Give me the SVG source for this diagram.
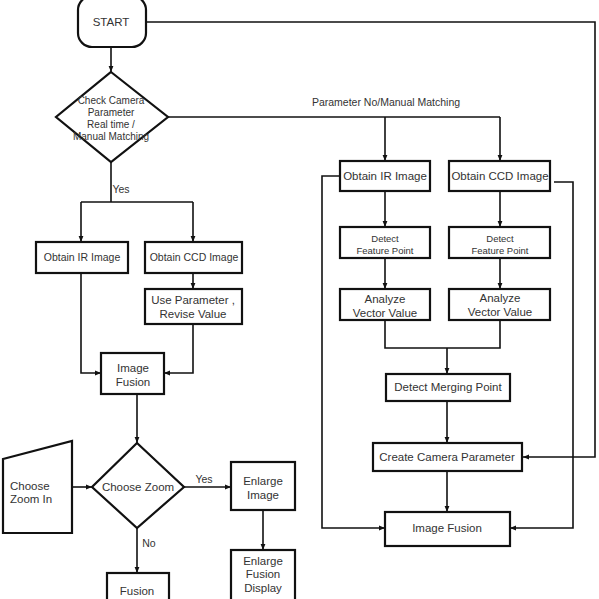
<svg xmlns="http://www.w3.org/2000/svg" width="599" height="599" viewBox="0 0 599 599">
<style>
.b{fill:#fff;stroke:#111;stroke-width:2.2}
.c{fill:none;stroke:#111;stroke-width:1.6}
text{font-family:"Liberation Sans","Noto Sans",sans-serif;fill:#333;text-anchor:middle}
.s{font-size:10.5px}
.d{font-size:10px}
.m{font-size:11.5px}
.t{font-size:9.5px}
</style>
<defs>
<marker id="a" viewBox="0 0 10 10" refX="10" refY="5" markerWidth="6" markerHeight="6" orient="auto-start-reverse" markerUnits="userSpaceOnUse"><path d="M0,1 L10,5 L0,9 z" fill="#111"/></marker>
</defs>
<rect width="599" height="599" fill="#fff"/>
<g id="connectors">
<path class="c" d="M111,47 V72" marker-end="url(#a)"/>
<path class="c" d="M146,22 H595 V457 H523" marker-end="url(#a)"/>
<path class="c" d="M168,117 H500"/>
<path class="c" d="M385,117 V161" marker-end="url(#a)"/>
<path class="c" d="M500,117 V161" marker-end="url(#a)"/>
<path class="c" d="M111,162 V202"/>
<path class="c" d="M81,202 H193"/>
<path class="c" d="M81,202 V242" marker-end="url(#a)"/>
<path class="c" d="M193,202 V242" marker-end="url(#a)"/>
<path class="c" d="M193,273 V289" marker-end="url(#a)"/>
<path class="c" d="M81,273 V373 H101" marker-end="url(#a)"/>
<path class="c" d="M193,324 V373 H164" marker-end="url(#a)"/>
<path class="c" d="M137,394 V443" marker-end="url(#a)"/>
<path class="c" d="M72,487 H92" marker-end="url(#a)"/>
<path class="c" d="M184,487 H231" marker-end="url(#a)"/>
<path class="c" d="M263,510 V550" marker-end="url(#a)"/>
<path class="c" d="M137,528 V573" marker-end="url(#a)"/>
<path class="c" d="M385,191 V227" marker-end="url(#a)"/>
<path class="c" d="M500,191 V227" marker-end="url(#a)"/>
<path class="c" d="M385,258 V289" marker-end="url(#a)"/>
<path class="c" d="M500,258 V289" marker-end="url(#a)"/>
<path class="c" d="M385,320 V348 H500 V320"/>
<path class="c" d="M447,348 V374" marker-end="url(#a)"/>
<path class="c" d="M447,401 V443" marker-end="url(#a)"/>
<path class="c" d="M447,471 V512" marker-end="url(#a)"/>
<path class="c" d="M340,176 H322 V528 H385" marker-end="url(#a)"/>
<path class="c" d="M554,182 H573 V528 H510" marker-end="url(#a)"/>
<text class="s" x="121" y="193">Yes</text>
<text class="s" x="386" y="106">Parameter No/Manual Matching</text>
<text class="s" x="204" y="483">Yes</text>
<text class="s" x="149" y="547">No</text>
</g>
<g id="start"><rect class="b" x="78" y="-4" width="68" height="51" rx="14"/><text class="m" x="111" y="26">START</text></g>
<g id="check"><path class="b" d="M111,72 L168,117 L111,162 L56,117 Z"/>
<text class="d" x="111" y="104">Check Camera</text><text class="d" x="111" y="116">Parameter</text><text class="d" x="111" y="128">Real time  /</text><text class="d" x="111" y="140">Manual Matching</text></g>
<g id="irL"><rect class="b" x="36" y="242" width="92" height="31"/><text class="s" x="82" y="261">Obtain  IR Image</text></g>
<g id="ccdL"><rect class="b" x="145" y="242" width="97" height="31"/><text class="s" x="194" y="261">Obtain  CCD Image</text></g>
<g id="usep"><rect class="b" x="145" y="289" width="97" height="35"/><text class="m" x="193" y="304">Use Parameter ,</text><text class="m" x="193" y="318">Revise Value</text></g>
<g id="fusionL"><rect class="b" x="101" y="353" width="63" height="41"/><text class="m" x="133" y="372">Image</text><text class="m" x="133" y="386">Fusion</text></g>
<g id="zoomin"><path class="b" d="M3,459 L72,441 L72,533 L3,533 Z"/><text class="m" x="10" y="490" style="text-anchor:start">Choose</text><text class="m" x="10" y="503" style="text-anchor:start">Zoom In</text></g>
<g id="choosezoom"><path class="b" d="M137,443 L184,487 L137,528 L92,487 Z"/><text class="m" x="138" y="491">Choose Zoom</text></g>
<g id="enlarge"><rect class="b" x="231" y="462" width="64" height="48"/><text class="m" x="263" y="485">Enlarge</text><text class="m" x="263" y="499">Image</text></g>
<g id="enlargefd"><rect class="b" x="231" y="550" width="64" height="60"/><text class="m" x="263" y="565">Enlarge</text><text class="m" x="263" y="578">Fusion</text><text class="m" x="263" y="592">Display</text></g>
<g id="fusion"><rect class="b" x="107" y="573" width="62" height="40"/><text class="m" x="137" y="595">Fusion</text></g>
<g id="irR"><rect class="b" x="340" y="161" width="90" height="30"/><text class="m" x="385" y="180">Obtain IR Image</text></g>
<g id="ccdR"><rect class="b" x="449" y="161" width="101" height="30"/><text class="m" x="500" y="180">Obtain CCD Image</text></g>
<g id="dfpL"><rect class="b" x="340" y="227" width="90" height="31"/><text class="t" x="385" y="242">Detect</text><text class="t" x="385" y="254">Feature  Point</text></g>
<g id="dfpR"><rect class="b" x="449" y="227" width="101" height="31"/><text class="t" x="500" y="242">Detect</text><text class="t" x="500" y="254">Feature  Point</text></g>
<g id="avvL"><rect class="b" x="340" y="289" width="90" height="31"/><text class="m" x="385" y="303">Analyze</text><text class="m" x="385" y="317">Vector Value</text></g>
<g id="avvR"><rect class="b" x="449" y="289" width="101" height="31"/><text class="m" x="500" y="302">Analyze</text><text class="m" x="500" y="316">Vector Value</text></g>
<g id="merge"><rect class="b" x="386" y="374" width="124" height="27"/><text class="m" x="448" y="391">Detect Merging Point</text></g>
<g id="create"><rect class="b" x="373" y="443" width="149" height="28"/><text class="m" x="447" y="461">Create Camera Parameter</text></g>
<g id="fusionR"><rect class="b" x="385" y="512" width="125" height="34"/><text class="m" x="447" y="532">Image Fusion</text></g>
</svg>
